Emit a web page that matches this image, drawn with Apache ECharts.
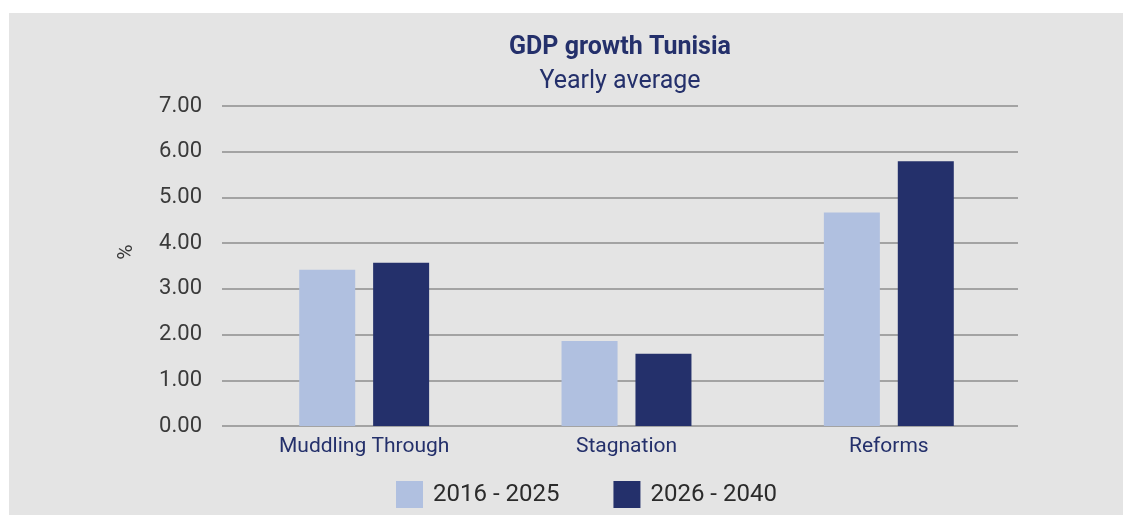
<!DOCTYPE html>
<html>
<head>
<meta charset="utf-8">
<title>GDP growth Tunisia</title>
<script src="https://cdn.jsdelivr.net/npm/echarts@6/dist/echarts.min.js"></script>
<style>
  html, body { margin: 0; padding: 0; background: #ffffff; }
  #chart { width: 1123px; height: 515px; }
</style>
</head>
<body>
<div id="chart"></div>
<script>
// Scenario categories and average yearly GDP growth (%) per period
const categories = ['Muddling Through', 'Stagnation', 'Reforms'];
const period1Name = '2016 - 2025';
const period2Name = '2026 - 2040';
const period1Values = [3.42, 1.86, 4.67];
const period2Values = [3.57, 1.58, 5.79];
const yMin = 0;
const yMax = 7;
const yStep = 1;

const FONT = 'Roboto, "DejaVu Sans", sans-serif';
const NAVY = '#24306b';
const LIGHT = '#b0c0e0';

const chart = echarts.init(document.getElementById('chart'), null, { renderer: 'canvas' });

chart.setOption({
  animation: false,
  backgroundColor: '#ffffff',
  textStyle: { fontFamily: FONT },
  graphic: [
    {
      type: 'rect',
      z: -10,
      silent: true,
      shape: { x: 9, y: 13, width: 1114, height: 502 },
      style: { fill: '#e4e4e4' }
    },
    {
      // unit label beside the value axis
      type: 'text',
      x: 127,
      y: 252,
      rotation: Math.PI / 2,
      style: {
        text: '%',
        fill: '#3a3a3a',
        font: '21px ' + FONT,
        align: 'center',
        verticalAlign: 'middle'
      }
    }
  ],
  title: [
    {
      text: 'GDP growth Tunisia',
      left: 615,
      top: 30,
      textAlign: 'center',
      textStyle: { color: NAVY, fontSize: 25, fontWeight: 'bold', fontFamily: FONT }
    },
    {
      text: 'Yearly average',
      left: 615,
      top: 64,
      textAlign: 'center',
      textStyle: { color: NAVY, fontSize: 25, fontWeight: 'normal', fontFamily: FONT }
    }
  ],
  legend: {
    left: 391,
    top: 476,
    itemWidth: 27,
    itemHeight: 27,
    itemGap: 54,
    icon: 'rect',
    textStyle: { color: '#2b2b2b', fontSize: 24, fontFamily: FONT, padding: [0, 0, 0, 5] },
    data: [period1Name, period2Name]
  },
  grid: [
    // value grid: tick labels and horizontal rules
    { left: 222, right: 105, top: 106, bottom: 89, containLabel: false },
    // bar grid: category bands
    { left: 233, right: 103, top: 106, bottom: 89, containLabel: false }
  ],
  xAxis: [
    {
      gridIndex: 0,
      type: 'category',
      data: categories,
      show: false
    },
    {
      gridIndex: 1,
      type: 'category',
      data: categories,
      axisLine: { show: false },
      axisTick: { show: false },
      axisLabel: { color: NAVY, fontSize: 21, margin: 10, fontFamily: FONT }
    }
  ],
  yAxis: [
    {
      gridIndex: 0,
      type: 'value',
      min: yMin,
      max: yMax,
      interval: yStep,
      axisLine: { show: false },
      axisTick: { show: false },
      axisLabel: {
        color: '#3a3a3a',
        fontSize: 22,
        margin: 20,
        fontFamily: FONT,
        formatter: v => v.toFixed(2)
      },
      splitLine: { show: true, lineStyle: { color: '#a3a3a3', width: 2 } }
    },
    {
      gridIndex: 1,
      type: 'value',
      min: yMin,
      max: yMax,
      interval: yStep,
      show: false,
      splitLine: { show: false }
    }
  ],
  series: [
    {
      name: period1Name,
      type: 'bar',
      xAxisIndex: 1,
      yAxisIndex: 1,
      data: period1Values,
      barWidth: 56,
      barGap: '32%',
      itemStyle: { color: LIGHT }
    },
    {
      name: period2Name,
      type: 'bar',
      xAxisIndex: 1,
      yAxisIndex: 1,
      data: period2Values,
      barWidth: 56,
      barGap: '32%',
      itemStyle: { color: NAVY }
    }
  ]
});
</script>
</body>
</html>
